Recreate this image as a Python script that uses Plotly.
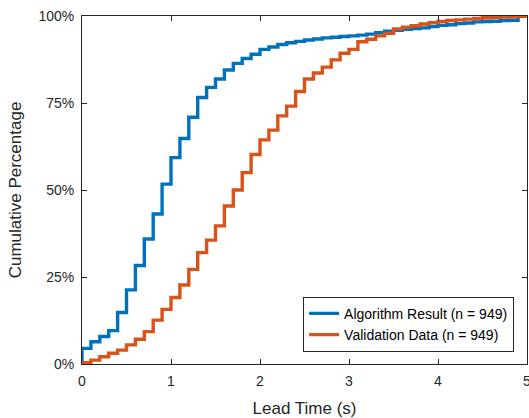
import plotly.graph_objects as go

time_s = [0.0, 0.1, 0.2, 0.3, 0.4, 0.5, 0.6, 0.7, 0.8, 0.9,
          1.0, 1.1, 1.2, 1.3, 1.4, 1.5, 1.6, 1.7, 1.8, 1.9,
          2.0, 2.1, 2.2, 2.3, 2.4, 2.5, 2.6, 2.7, 2.8, 2.9,
          3.0, 3.1, 3.2, 3.3, 3.4, 3.5, 3.6, 3.7, 3.8, 3.9,
          4.0, 4.1, 4.2, 4.3, 4.4, 4.5, 4.6, 4.7, 4.8, 4.9, 5.0]

algo_pct = [4.5, 6.4, 7.9, 9.6, 14.8, 21.3, 28.3, 35.9, 43.1, 51.7,
            59.3, 64.8, 70.9, 76.6, 79.5, 81.9, 84.5, 86.4, 87.8, 89.0,
            90.4, 91.1, 91.8, 92.3, 92.7, 93.1, 93.4, 93.7, 93.9, 94.1,
            94.3, 94.5, 94.8, 95.2, 95.6, 95.9, 96.2, 96.4, 96.6, 97.0,
            97.3, 97.5, 97.8, 98.0, 98.3, 98.4, 98.5, 98.7, 98.8, 100.0]

valid_pct = [0.4, 1.1, 2.1, 3.1, 4.0, 5.5, 7.1, 9.3, 12.6, 15.7,
             19.1, 22.7, 27.2, 32.0, 35.6, 39.7, 45.4, 50.0, 55.0, 60.2,
             64.4, 67.2, 71.3, 74.1, 78.3, 81.9, 83.6, 85.3, 87.4, 89.3,
             90.4, 92.6, 93.3, 94.3, 95.0, 96.3, 96.8, 97.2, 97.7, 98.1,
             98.4, 98.7, 98.9, 99.1, 99.3, 99.5, 99.6, 99.7, 99.8, 99.9, 100.0]

legend_names = ["Algorithm Result (n = 949)", "Validation Data (n = 949)"]
y_ticks = [0, 25, 50, 75, 100]
x_ticks = [0, 1, 2, 3, 4, 5]

FONT = "Liberation Sans, Arial, Helvetica, sans-serif"
AX = "#262626"

fig = go.Figure()
for name, vals, color in [(legend_names[0], algo_pct, "#0072BD"),
                          (legend_names[1], valid_pct, "#D95319")]:
    xs = [time_s[0]] + time_s[:len(vals)]
    ys = [0] + vals
    fig.add_trace(go.Scatter(x=xs, y=ys, mode="lines", name=name,
                             line=dict(color=color, width=3.4, shape="hv"),
                             cliponaxis=True))

axis_common = dict(showline=True, linecolor=AX, linewidth=1, mirror="ticks",
                   ticks="inside", ticklen=5, tickcolor=AX, showgrid=False,
                   zeroline=False, ticklabeloverflow="allow", automargin=False,
                   tickfont=dict(family=FONT, size=14, color=AX))

fig.update_layout(
    width=529, height=418,
    margin=dict(l=82, r=2, t=16, b=54),
    paper_bgcolor="white", plot_bgcolor="white",
    font=dict(family=FONT, color=AX),
    xaxis=dict(range=[0, 5], tickvals=x_ticks, ticktext=[str(v) for v in x_ticks],
               ticklabelstandoff=4,
               title=dict(text="Lead Time (s)", font=dict(family=FONT, size=17, color=AX), standoff=14),
               **axis_common),
    yaxis=dict(range=[0, 100], tickvals=y_ticks, ticktext=[f"{v}%" for v in y_ticks],
               ticklabelstandoff=4,
               title=dict(text="Cumulative Percentage", font=dict(family=FONT, size=17, color=AX), standoff=12),
               **axis_common),
    legend=dict(x=0.971, y=0.035, xanchor="right", yanchor="bottom",
                bgcolor="white", bordercolor=AX, borderwidth=1,
                font=dict(family=FONT, size=14, color="black"),
                tracegroupgap=0),
    showlegend=True,
)

fig.write_html("out.html")
